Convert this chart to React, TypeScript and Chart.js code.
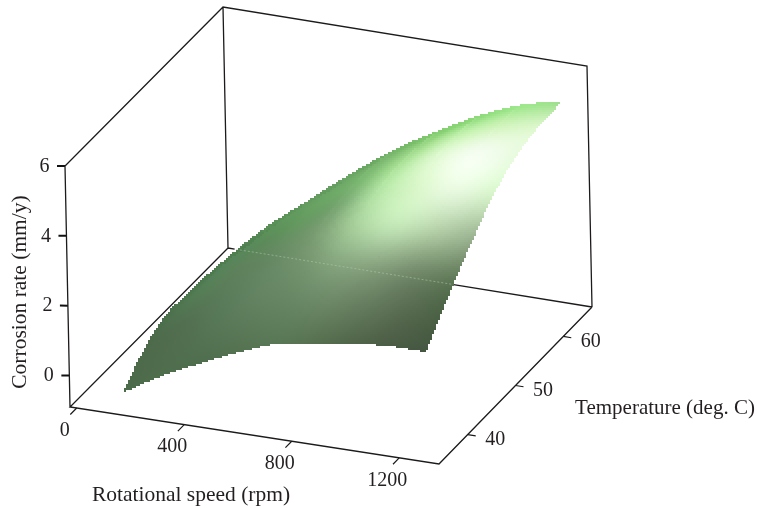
import React, { useEffect, useRef } from "react";
import { Chart, registerables } from "chart.js";

Chart.register(...registerables);

const W = 757;
const H = 508;
const FONT = '"Liberation Serif", serif';
const INK = "#231f20";

// axis ranges of the 3D box
const rpmRange = [-25, 1348];
const tempRange = [34, 66];
const corrosionRange = [-0.9, 6];

// tick labels
const rpmTicks = [0, 400, 800, 1200];
const tempTicks = [40, 50, 60];
const corrosionTicks = [0, 2, 4, 6];

// surface: one column per rotational speed, one row per temperature step
const surfaceRpm = [135, 275, 420, 560, 705, 850, 990, 1135, 1275];
const surfaceTemp = [
  [36.5, 36.5, 36.5, 36.5, 36.5, 36.5, 36.5, 36.5, 35.7],
  [40.6, 40.7, 40.7, 40.8, 40.9, 40.9, 41.0, 41.1, 41.1],
  [44.7, 44.8, 44.9, 45.1, 45.2, 45.3, 45.5, 45.6, 45.7],
  [48.8, 49.0, 49.2, 49.4, 49.6, 49.8, 50.0, 50.2, 50.4],
  [52.8, 53.1, 53.4, 53.6, 53.9, 54.2, 54.4, 54.7, 55.0],
  [56.9, 57.3, 57.6, 57.9, 58.3, 58.6, 58.9, 59.3, 59.6],
  [61.0, 61.4, 61.8, 62.2, 62.6, 63.0, 63.4, 63.8, 64.2],
];
const surfaceCorrosion = [
  [-0.59, 0.03, 0.56, 1.04, 1.45, 1.64, 1.8, 1.89, 2.02],
  [-0.03, 0.82, 1.5, 2.13, 2.63, 2.92, 3.11, 3.16, 3.05],
  [0.31, 1.29, 2.07, 2.8, 3.36, 3.72, 3.93, 3.97, 3.81],
  [0.33, 1.36, 2.18, 2.96, 3.6, 4.07, 4.39, 4.55, 4.5],
  [0.29, 1.32, 2.16, 2.98, 3.66, 4.21, 4.61, 4.87, 4.92],
  [0.2, 1.2, 2.05, 2.87, 3.59, 4.16, 4.63, 4.97, 5.09],
  [0.05, 1.0, 1.82, 2.63, 3.36, 3.96, 4.49, 4.9, 5.13],
];
// lit colour of the surface at each of the points above
const surfaceShade = [
  ["#4c6b4a", "#4f6e4c", "#4f6e4d", "#547250", "#587755", "#56704f", "#506549", "#4a5c44", "#445640"],
  ["#4d6a4b", "#526f50", "#597a58", "#648462", "#6e8e6a", "#7c9a76", "#7c9674", "#6c8264", "#57704f"],
  ["#4c6f4c", "#557e56", "#5f825c", "#668c63", "#7c9f74", "#a8d09c", "#c4e8b8", "#b8d4ac", "#98b08e"],
  ["#4d764e", "#56835a", "#5c8a5a", "#659a60", "#78a872", "#b4e4a6", "#d8f6c8", "#ecfce4", "#d8f5cc"],
  ["#4d7a4f", "#568857", "#5f965c", "#6aa464", "#7cb872", "#aee49c", "#e0f9d2", "#f4fdf0", "#e8fbdf"],
  ["#4f7d50", "#5a8e58", "#649c60", "#6ba565", "#7cb870", "#9cd888", "#c0f0ac", "#d0f4bc", "#dcf7cc"],
  ["#4f7f50", "#5a9258", "#639b5e", "#6aa663", "#75b868", "#85cf72", "#8fdb7c", "#9ee68c", "#9fe08e"],
];

// oblique view of the box: maps (rpm, temperature, corrosion) onto the chart's flat x/y scales
function project(rpm: number, temp: number, z: number) {
  const u = (rpm - rpmRange[0]) / (rpmRange[1] - rpmRange[0]);
  const v = (temp - tempRange[0]) / (tempRange[1] - tempRange[0]);
  const w = (z - corrosionRange[0]) / (corrosionRange[1] - corrosionRange[0]);
  return {
    x: 70 + 369 * u + 158 * v - 5 * u * v - 5 * w,
    y: 407 + 57 * u - 159 * v + 2 * u * v - 241 * w,
  };
}

const [r0, r1] = rpmRange;
const [t0, t1] = tempRange;
const [z0, z1] = corrosionRange;

const boxPaths = [
  [project(r0, t1, z0), project(r0, t0, z0), project(r1, t0, z0), project(r1, t1, z0)],
  [project(r0, t0, z0), project(r0, t0, z1), project(r0, t1, z1), project(r1, t1, z1), project(r1, t1, z0)],
  [project(r0, t1, z0), project(r0, t1, z1)],
  [project(820, t1, z0), project(r1, t1, z0)],
  [project(r0, t1, z0), project(r0 + 25, t1, z0)],
];

function lineSet(data: any[], color: string, width: number, dash: number[] = []) {
  return {
    type: "scatter" as const,
    data,
    showLine: true,
    borderColor: color,
    borderWidth: width,
    borderDash: dash,
    pointRadius: 0,
    fill: false,
    tension: 0,
    spanGaps: false,
  };
}

const withGaps = (segs: any[][]) => segs.flatMap((s) => [...s, { x: NaN, y: NaN }]);

function hex(c: string) {
  return [1, 3, 5].map((i) => parseInt(c.slice(i, i + 2), 16));
}

function cr(a: number, b: number, c: number, d: number, t: number) {
  return 0.5 * (2 * b + (c - a) * t + (2 * a - 5 * b + 4 * c - d) * t * t + (3 * b - a - 3 * c + d) * t * t * t);
}

const surfacePainter = {
  id: "surfacePainter",
  afterDatasetDraw(chart: any, args: any) {
    if (args.index !== 1) return;
    const ds = chart.data.datasets[1];
    const sx = chart.scales.x;
    const sy = chart.scales.y;
    const rows = surfaceTemp.length;
    const cols = surfaceRpm.length;
    const verts: number[][][] = [];
    for (let r = 0; r < rows; r++) {
      verts.push([]);
      for (let c = 0; c < cols; c++) {
        const p = ds.data[r * cols + c];
        verts[r].push([sx.getPixelForValue(p.x), sy.getPixelForValue(p.y), ...hex(surfaceShade[r][c])]);
      }
    }
    const at = (r: number, c: number) =>
      verts[Math.max(0, Math.min(rows - 1, r))][Math.max(0, Math.min(cols - 1, c))];
    const off = document.createElement("canvas");
    off.width = W;
    off.height = H;
    const o = off.getContext("2d")!;
    const cell = 2;
    const steps = 70;
    for (let r = 0; r < rows - 1; r++) {
      for (let c = 0; c < cols - 1; c++) {
        for (let i = 0; i <= steps; i++) {
          const s = i / steps;
          for (let j = 0; j <= steps; j++) {
            const t = j / steps;
            const out = [0, 0, 0, 0, 0];
            for (let k = 0; k < 5; k++) {
              const row = [r - 1, r, r + 1, r + 2].map((rr) =>
                cr(at(rr, c - 1)[k], at(rr, c)[k], at(rr, c + 1)[k], at(rr, c + 2)[k], t)
              );
              out[k] = cr(row[0], row[1], row[2], row[3], s);
            }
            const col = out.slice(2).map((v) => Math.max(0, Math.min(255, Math.round(v))));
            o.fillStyle = `rgb(${col[0]},${col[1]},${col[2]})`;
            o.fillRect(Math.floor(out[0] / cell) * cell, Math.floor(out[1] / cell) * cell, cell, cell);
          }
        }
      }
    }
    const ctx = chart.ctx;
    ctx.save();
    ctx.filter = "blur(0.6px)";
    ctx.drawImage(off, 0, 0);
    ctx.restore();
  },
};

const textPainter = {
  id: "textPainter",
  afterDraw(chart: any) {
    const ctx = chart.ctx;
    const sx = chart.scales.x;
    const sy = chart.scales.y;
    const put = (text: string, p: { x: number; y: number }, dx: number, dy: number) => {
      ctx.fillText(text, sx.getPixelForValue(p.x) + dx, sy.getPixelForValue(p.y) + dy);
    };
    ctx.save();
    ctx.fillStyle = INK;
    ctx.textAlign = "center";
    ctx.textBaseline = "middle";
    ctx.font = `20px ${FONT}`;
    rpmTicks.forEach((v) => put(String(v), project(v, t0, z0), -12, 22.5));
    tempTicks.forEach((v) => put(String(v), project(r1, v, z0), 27.5, 5));
    corrosionTicks.forEach((v) => put(String(v), project(r0, t0, v), -20.5, 0.5));
    ctx.font = `21.5px ${FONT}`;
    ctx.fillText("Rotational speed (rpm)", 191, 495);
    ctx.font = `21px ${FONT}`;
    ctx.fillText("Temperature (deg. C)", 665, 408);
    ctx.font = `21.5px ${FONT}`;
    ctx.translate(20, 292);
    ctx.rotate(-Math.PI / 2);
    ctx.fillText("Corrosion rate (mm/y)", 0, 0);
    ctx.restore();
  },
};

export default function App() {
  const ref = useRef<HTMLCanvasElement>(null);
  useEffect(() => {
    document.body.style.margin = "0";
    const surfacePoints = surfaceTemp.flatMap((row, r) =>
      row.map((temp, c) => project(surfaceRpm[c], temp, surfaceCorrosion[r][c]))
    );
    const rpmTickSegs = rpmTicks.map((v) => [project(v, t0, z0), project(v, t0 - 1.3, z0)]);
    const tempTickSegs = tempTicks.map((v) => [project(r1, v, z0), project(r1 + 30, v, z0)]);
    const zTickSegs = corrosionTicks.map((v) => [project(r0, t0, v), project(r0 - 26, t0 - 0.2, v)]);
    const chart = new Chart(ref.current!, {
      type: "scatter",
      data: {
        datasets: [
          lineSet([project(r0 + 30, t1, z0), project(820, t1, z0)], "rgba(185,205,180,0.5)", 1, [2, 2]),
          { type: "scatter", data: surfacePoints, pointRadius: 0, showLine: false },
          lineSet(withGaps(boxPaths), "#1c1a1a", 1.3),
          lineSet(withGaps([...rpmTickSegs, ...tempTickSegs]), "#1c1a1a", 1.2),
          lineSet(withGaps(zTickSegs), "#111", 2),
        ] as any,
      },
      options: {
        animation: false,
        responsive: false,
        layout: { padding: 0 },
        plugins: { legend: { display: false }, tooltip: { enabled: false } },
        scales: {
          x: { type: "linear", display: false, min: 0, max: W },
          y: { type: "linear", display: false, min: 0, max: H, reverse: true },
        },
      },
      plugins: [surfacePainter, textPainter],
    });
    return () => chart.destroy();
  }, []);
  return <canvas ref={ref} width={W} height={H} style={{ display: "block" }} />;
}
